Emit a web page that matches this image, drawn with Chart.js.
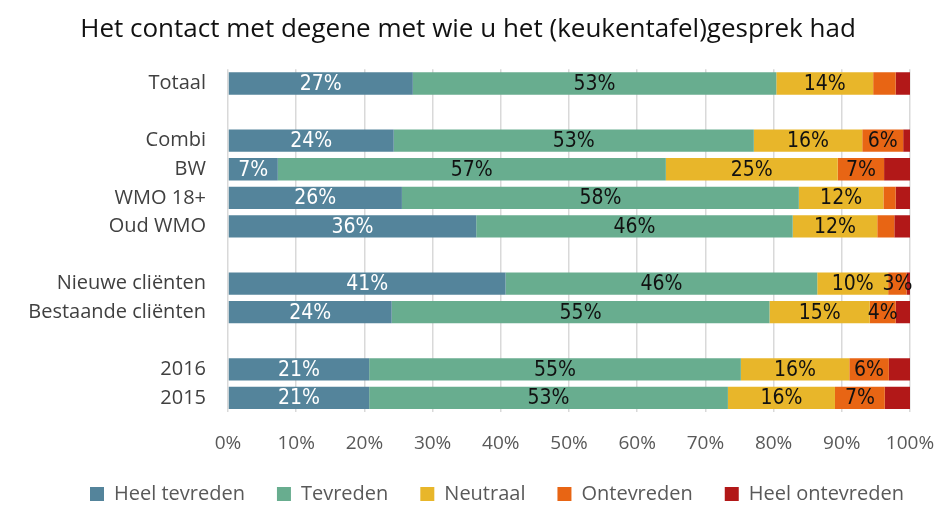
<!DOCTYPE html>
<html>
<head>
<meta charset="utf-8">
<script src="https://cdn.jsdelivr.net/npm/chart.js@4/dist/chart.umd.min.js"></script>
<style>
  html, body { margin: 0; padding: 0; background: #fff; }
  #wrap { width: 939px; height: 505px; }
</style>
</head>
<body>
<div id="wrap"><canvas id="chart"></canvas></div>
<script>
// categories (empty strings are the gaps between groups)
const categories = ['Totaal', '', 'Combi', 'BW', 'WMO 18+', 'Oud WMO', '', 'Nieuwe cliënten', 'Bestaande cliënten', '', '2016', '2015'];

// series values in percent
const heelTevreden   = [27.1, null, 24.3,  7.3, 25.5, 36.4, null, 40.7, 24.0, null, 20.7, 20.7];
const tevreden       = [53.3, null, 52.8, 56.9, 58.2, 46.4, null, 45.7, 55.4, null, 54.5, 52.6];
const neutraal       = [14.2, null, 15.9, 25.2, 12.4, 12.4, null, 10.4, 14.7, null, 15.9, 15.7];
const ontevreden     = [ 3.3, null,  6.0,  6.8,  1.8,  2.5, null,  2.7,  3.8, null,  5.8,  7.3];
const heelOntevreden = [ 2.1, null,  1.0,  3.8,  2.1,  2.3, null,  0.5,  2.1, null,  3.1,  3.7];

const seriesNames = ['Heel tevreden', 'Tevreden', 'Neutraal', 'Ontevreden', 'Heel ontevreden'];
const xTicks = [0, 10, 20, 30, 40, 50, 60, 70, 80, 90, 100];

// which "Ontevreden" segments carry a value label
const showOntevreden = [false, false, true, true, false, false, false, true, true, false, true, true];

const colors = ['#54849b', '#68ad8f', '#e8b62a', '#e86514', '#b21818'];
const labelColors = ['#ffffff', '#111111', '#111111', '#111111', null];

const allSeries = [heelTevreden, tevreden, neutraal, ontevreden, heelOntevreden];

const valueLabels = {
  id: 'valueLabels',
  afterDatasetsDraw(chart) {
    const ctx = chart.ctx;
    ctx.save();
    ctx.font = "21px 'DejaVu Sans Condensed', 'Liberation Sans Narrow', sans-serif";
    ctx.textAlign = 'center';
    ctx.textBaseline = 'middle';
    chart.data.datasets.forEach((ds, di) => {
      if (!labelColors[di]) return;
      const meta = chart.getDatasetMeta(di);
      meta.data.forEach((bar, i) => {
        const v = ds.data[i];
        if (v == null) return;
        if (di === 3 && !showOntevreden[i]) return;
        ctx.fillStyle = labelColors[di];
        ctx.fillText(Math.round(v) + '%', (bar.x + bar.base) / 2, bar.y + 1);
      });
    });
    ctx.restore();
  }
};

// legend keeps wide gaps between items but less height; legend and title sit a bit right of centre
const legendTrim = {
  id: 'legendTrim',
  afterInit(chart) {
    const lg = chart.legend;
    if (!lg) return;
    const fit = lg.fit;
    lg.fit = function () {
      fit.call(this);
      this.height -= 9;
    };
  },
  afterLayout(chart) {
    const lg = chart.legend;
    if (lg) { lg.left += 42; lg.right += 42; }
    const tb = chart.titleBlock;
    if (tb) { tb.left += 13; tb.right += 13; }
  }
};

new Chart(document.getElementById('chart'), {
  type: 'bar',
  data: {
    labels: categories,
    datasets: allSeries.map((d, i) => ({
      label: seriesNames[i],
      data: d,
      backgroundColor: colors[i],
      borderWidth: 0,
      categoryPercentage: 1,
      barPercentage: 0.78
    }))
  },
  options: {
    indexAxis: 'y',
    responsive: true,
    maintainAspectRatio: false,
    animation: false,
    layout: { padding: { left: 0, right: 29, top: 0, bottom: 0 } },
    scales: {
      x: {
        stacked: true,
        min: 0,
        max: 100,
        afterBuildTicks: s => { s.ticks = xTicks.map(v => ({ value: v })); },
        afterFit: s => { s.height -= 23; s.paddingRight = 0; },
        ticks: {
          callback: v => v + '%',
          color: '#595959',
          font: { family: "'Open Sans', sans-serif", size: 19 },
          padding: 20,
          maxRotation: 0
        },
        grid: { color: '#d9d9d9', lineWidth: 1.5, drawTicks: false },
        border: { display: false }
      },
      y: {
        stacked: true,
        afterFit: s => { s.width = 228; },
        ticks: {
          color: '#404040',
          font: { family: "'Open Sans', sans-serif", size: 20 },
          padding: 14,
          autoSkip: false
        },
        grid: { display: false },
        border: { display: false }
      }
    },
    plugins: {
      title: {
        display: true,
        text: 'Het contact met degene met wie u het (keukentafel)gesprek had',
        color: '#111',
        font: { family: "'Open Sans', sans-serif", size: 26, weight: 'normal' },
        padding: { top: 14, bottom: 24 }
      },
      legend: {
        position: 'bottom',
        labels: {
          color: '#595959',
          font: { family: "'Open Sans', sans-serif", size: 20 },
          boxWidth: 14,
          boxHeight: 14,
          padding: 32
        }
      },
      tooltip: { enabled: false }
    }
  },
  plugins: [valueLabels, legendTrim]
});
</script>
</body>
</html>
